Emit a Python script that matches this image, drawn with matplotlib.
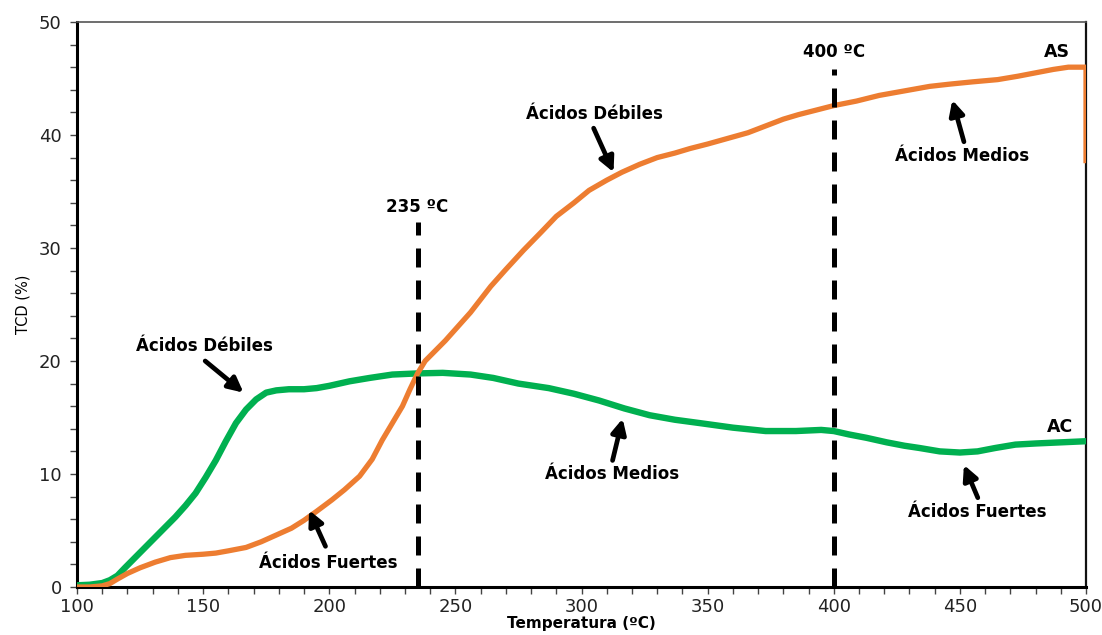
import matplotlib
matplotlib.use("Agg")
import matplotlib.pyplot as plt
from matplotlib.ticker import MultipleLocator

# Temperature-programmed desorption profiles (TCD signal, %)
as_temp = [100, 105, 110, 113, 116, 120, 125, 131, 137, 143, 150, 155, 160, 167,
           173, 179, 185, 190, 195, 201, 206, 212, 217, 221, 225, 229, 232, 235,
           238, 242, 246, 250, 256, 264, 270, 277, 284, 290, 297, 303, 310, 316,
           323, 330, 337, 343, 350, 358, 366, 373, 380, 386, 393, 400, 409, 418,
           428, 438, 446, 455, 465, 473, 480, 487, 493, 497, 500, 500]
as_tcd = [0.0, 0.0, 0.1, 0.3, 0.7, 1.2, 1.7, 2.2, 2.6, 2.8, 2.9, 3.0, 3.2, 3.5,
          4.0, 4.6, 5.2, 5.9, 6.7, 7.7, 8.6, 9.8, 11.3, 13.0, 14.5, 16.0, 17.5, 18.9,
          20.0, 20.9, 21.8, 22.8, 24.3, 26.6, 28.1, 29.8, 31.4, 32.8, 34.0, 35.1, 36.0, 36.7,
          37.4, 38.0, 38.4, 38.8, 39.2, 39.7, 40.2, 40.8, 41.4, 41.8, 42.2, 42.6, 43.0, 43.5,
          43.9, 44.3, 44.5, 44.7, 44.9, 45.2, 45.5, 45.8, 46.0, 46.0, 46.0, 37.5]

ac_temp = [100, 105, 110, 113, 116, 119, 123, 127, 131, 135, 139, 143, 147, 151,
           155, 159, 163, 167, 171, 175, 179, 184, 190, 195, 200, 208, 216, 225,
           235, 245, 256, 265, 275, 287, 297, 307, 317, 327, 337, 347, 360, 373,
           385, 395, 400, 406, 413, 421, 428, 434, 442, 450, 457, 464, 472, 480,
           490, 500]
ac_tcd = [0.15, 0.2, 0.35, 0.6, 1.0, 1.7, 2.6, 3.5, 4.4, 5.3, 6.2, 7.2, 8.3, 9.7,
          11.2, 12.9, 14.5, 15.7, 16.6, 17.2, 17.4, 17.5, 17.5, 17.6, 17.8, 18.2, 18.5, 18.8,
          18.9, 18.95, 18.8, 18.5, 18.0, 17.6, 17.1, 16.5, 15.8, 15.2, 14.8, 14.5, 14.1, 13.8,
          13.8, 13.9, 13.8, 13.5, 13.2, 12.8, 12.5, 12.3, 12.0, 11.9, 12.0, 12.3, 12.6, 12.7,
          12.8, 12.9]

# Reference temperatures (label, x, top of dashed line, label height)
markers = [("235 ºC", 235, 32.3, 33.6), ("400 ºC", 400, 45.8, 47.3)]

# Annotations: text, text position, arrow tip, arrow tail
notes = [
    ("Ácidos Débiles", (150.5, 21.3), (166.0, 17.2), (150.8, 20.0)),
    ("Ácidos Fuertes", (199.5, 2.1), (192.0, 6.8), (198.5, 3.6)),
    ("Ácidos Débiles", (305.0, 41.9), (312.7, 36.7), (304.8, 40.6)),
    ("Ácidos Medios", (451.0, 38.1), (447.0, 43.1), (451.6, 39.4)),
    ("Ácidos Medios", (312.3, 10.0), (316.3, 14.9), (312.3, 11.2)),
    ("Ácidos Fuertes", (457.0, 6.6), (451.6, 10.8), (457.1, 7.9)),
]

series_labels = [("AS", 488.5, 47.3), ("AC", 489.7, 14.2)]

orange = "#ED7D31"
green = "#00B050"

fig = plt.figure(figsize=(11.02, 6.35), dpi=100)
ax = fig.add_axes([0.0699, 0.0756, 0.9156, 0.8898])

ax.plot(ac_temp, ac_tcd, color=green, lw=4.6, solid_capstyle="round",
        solid_joinstyle="round", zorder=3)
ax.plot(as_temp, as_tcd, color=orange, lw=3.8, solid_capstyle="butt",
        solid_joinstyle="round", zorder=4)

for label, xv, ytop, ylab in markers:
    ax.plot([xv, xv], [0, ytop], color="black", lw=3.6, dashes=(3.8, 2.6),
            zorder=5)
    ax.text(xv, ylab, label, ha="center", va="center", fontsize=12,
            fontweight="bold", family="DejaVu Sans", zorder=6)

for text, tpos, tip, tail in notes:
    ax.text(tpos[0], tpos[1], text, ha="center", va="center", fontsize=12,
            fontweight="bold", family="DejaVu Sans", zorder=6)
    ax.annotate("", xy=tip, xytext=tail,
                arrowprops=dict(arrowstyle="-|>", color="black", lw=3.4,
                                mutation_scale=22, shrinkA=0, shrinkB=0),
                zorder=6)

for text, xv, yv in series_labels:
    ax.text(xv, yv, text, ha="center", va="center", fontsize=12.5,
            fontweight="bold", family="DejaVu Sans", zorder=6)

ax.set_xlim(100, 500)
ax.set_ylim(0, 50)
ax.xaxis.set_major_locator(MultipleLocator(50))
ax.xaxis.set_minor_locator(MultipleLocator(10))
ax.yaxis.set_major_locator(MultipleLocator(10))
ax.yaxis.set_minor_locator(MultipleLocator(2))

ax.tick_params(which="both", direction="out", length=5, width=1,
               color="#444444", labelsize=13, labelcolor="#222222")
ax.tick_params(axis="x", pad=3)
ax.tick_params(axis="y", pad=6)

for side in ("left", "bottom"):
    ax.spines[side].set_linewidth(2.2)
    ax.spines[side].set_color("black")
ax.spines["right"].set_linewidth(1.6)
ax.spines["right"].set_color("#111111")
ax.spines["top"].set_linewidth(1.2)
ax.spines["top"].set_color("#555555")

ax.set_xlabel("Temperatura (ºC)", fontsize=11, fontweight="bold", labelpad=0)
ax.set_ylabel("TCD (%)", fontsize=10.5, labelpad=6)

fig.savefig("out.png", dpi=100)
